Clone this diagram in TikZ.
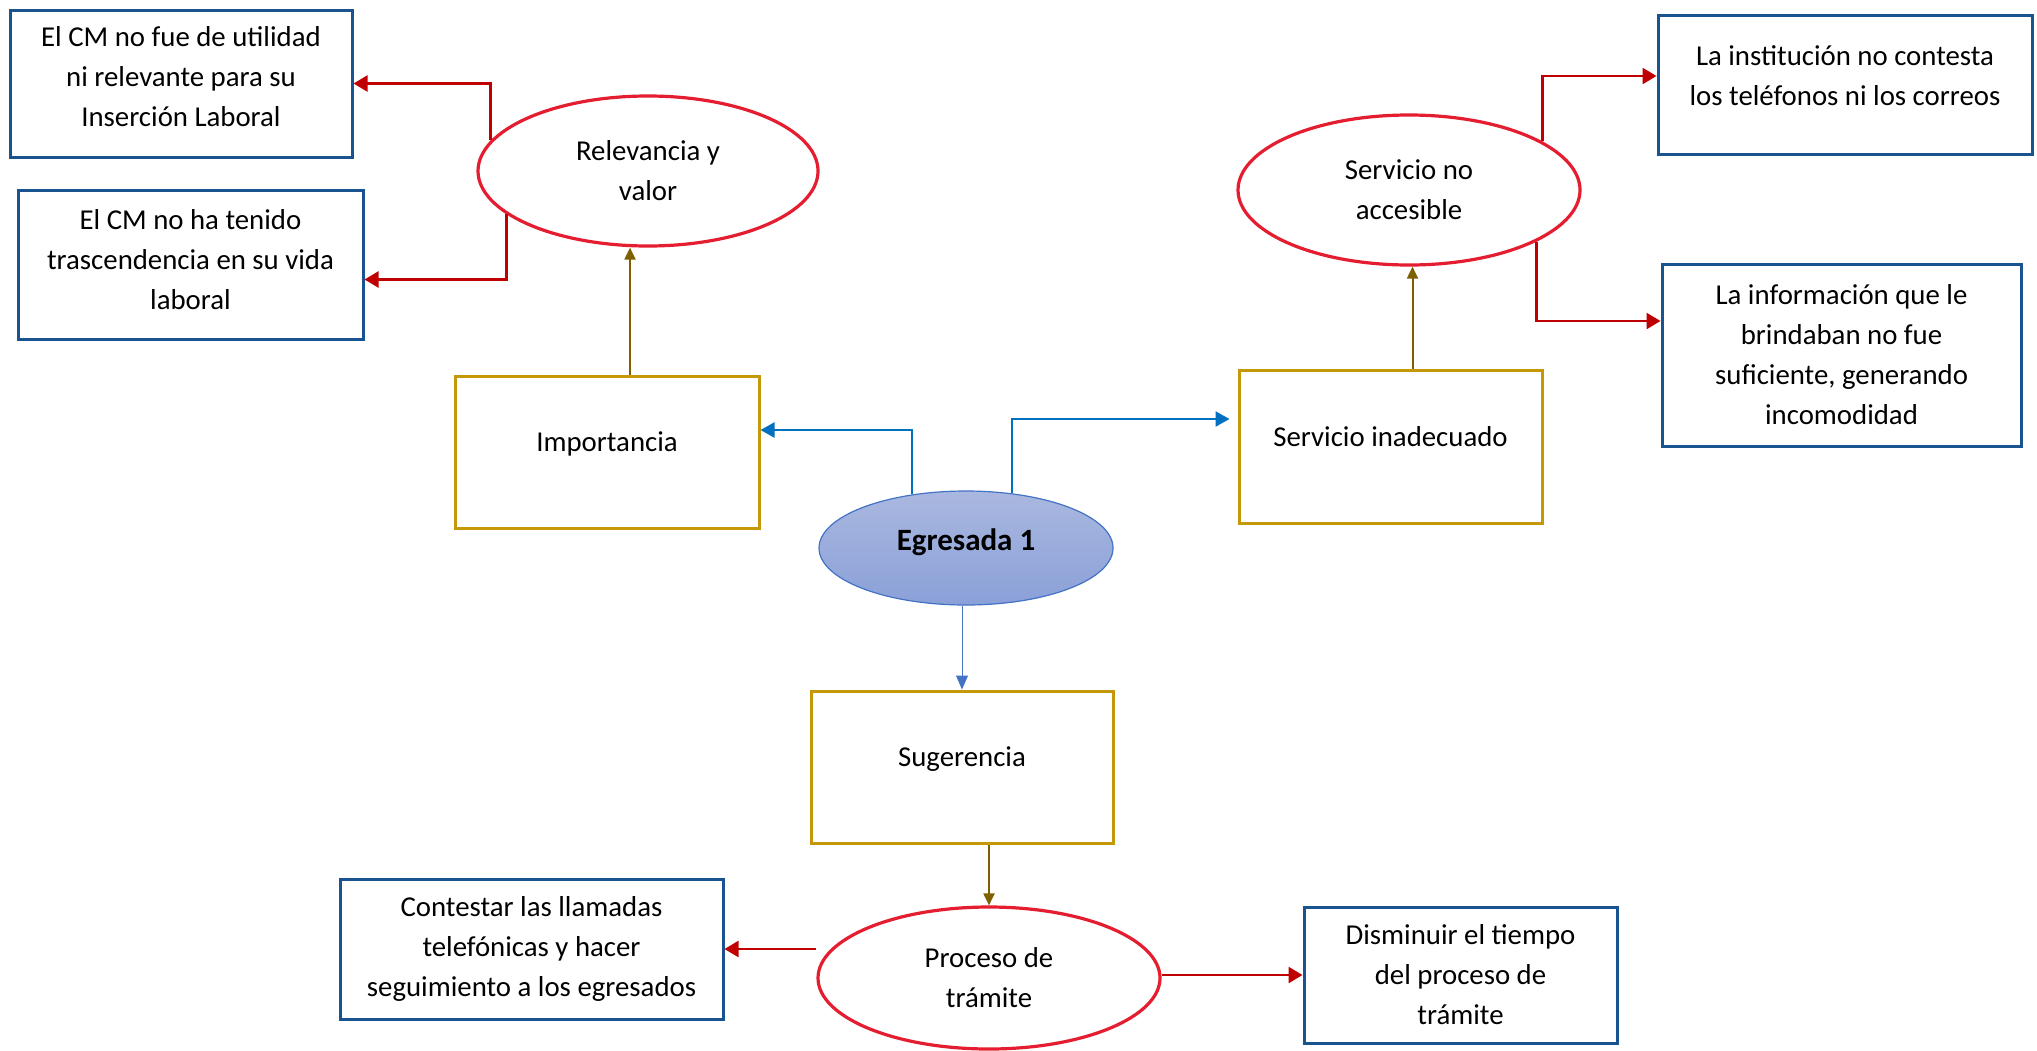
\documentclass[tikz,border=0pt]{standalone}
\usepackage{fontspec}
\setmainfont{Carlito}
\usetikzlibrary{shapes.geometric,arrows.meta}
\definecolor{boxblue}{RGB}{25,84,145}
\definecolor{gold}{RGB}{197,152,10}
\definecolor{ellred}{RGB}{228,30,48}
\definecolor{arrred}{RGB}{192,0,0}
\definecolor{arrbrown}{RGB}{127,96,0}
\definecolor{arrblue}{RGB}{0,112,192}
\definecolor{egline}{RGB}{68,114,196}
\definecolor{egtop}{RGB}{170,184,224}
\definecolor{egbot}{RGB}{138,160,216}
\newcommand\fs{\fontsize{14.4}{20}\selectfont}
\begin{document}
\begin{tikzpicture}[x=0.5pt,y=-0.5pt,
  bbox/.style={draw=boxblue, line width=1.5pt, inner sep=0pt, align=center, font=\fs},
  gbox/.style={draw=gold, line width=1.5pt, inner sep=0pt, align=center, font=\fs, text height=10pt, text depth=10.4pt},
  rell/.style={ellipse, draw=ellred, line width=1.6pt, inner sep=0pt, align=center, font=\fs},
  redarr/.style={draw=arrred, line width=1.2pt, -{Triangle[length=7pt,width=8pt]}},
  brarr/.style={draw=arrbrown, line width=1pt, -{Triangle[length=6pt,width=5.5pt]}},
  bluearr/.style={draw=arrblue, line width=1.1pt, -{Triangle[length=7pt,width=7.5pt]}},
  bluethin/.style={draw=egline, line width=0.5pt, -{Triangle[length=7pt,width=6pt]}}
]
\fill[white] (0,0) rectangle (2037,1050);
\useasboundingbox (0,0) rectangle (2037,1050);

% left group
\node[bbox, minimum width=171pt, minimum height=73.5pt, text depth=7.5pt] (A) at (181,83.5)
  {El CM no fue de utilidad\\ni relevante para su\\Inserción Laboral};
\node[bbox, minimum width=172.5pt, minimum height=74.5pt, text depth=5pt] (B) at (190.5,264.5)
  {El CM no ha tenido\\trascendencia en su vida\\laboral};
\node[rell, minimum width=170pt, minimum height=75pt] (rel) at (648,171) {Relevancia y\\valor};
\node[gbox, minimum width=152pt, minimum height=76pt] (imp) at (607,452) {Importancia};

% center
\node[ellipse, draw=egline, line width=0.6pt, top color=egtop, bottom color=egbot,
  minimum width=147pt, minimum height=57pt, inner sep=0pt,
  font=\fontsize{15.5}{18}\selectfont\bfseries, text height=10pt, text depth=8pt] (eg) at (966,548) {Egresada 1};

% right group
\node[gbox, minimum width=151.5pt, minimum height=76.5pt] (sin) at (1390.5,446.5) {Servicio inadecuado};
\node[rell, minimum width=171pt, minimum height=75pt] (sna) at (1409,190) {Servicio no\\accesible};
\node[bbox, minimum width=187pt, minimum height=69.5pt, text depth=9pt] (C) at (1845,84.5)
  {La institución no contesta\\los teléfonos ni los correos};
\node[bbox, minimum width=179.5pt, minimum height=91pt] (D) at (1841.5,355)
  {La información que le\\brindaban no fue\\suficiente, generando\\incomodidad};

% bottom group
\node[gbox, minimum width=151pt, minimum height=76pt] (sug) at (962,767) {Sugerencia};
\node[rell, minimum width=171pt, minimum height=71pt] (proc) at (989,978) {Proceso de\\trámite};
\node[bbox, minimum width=191.5pt, minimum height=70pt] (E) at (531.5,949)
  {Contestar las llamadas\\telefónicas y hacer\\seguimiento a los egresados};
\node[bbox, minimum width=156.5pt, minimum height=68pt] (F) at (1460.5,975)
  {Disminuir el tiempo\\del proceso de\\trámite};

% connectors
\draw[redarr] (rel.169) |- (A.east);
\draw[redarr] (rel.197) |- ([yshift=-7.5pt]B.east);
\draw[brarr] ([xshift=11.5pt]imp.north) -- ([xshift=11.5pt]imp.north |- rel.south);
\draw[bluearr] (eg.135) |- ([yshift=11pt]imp.east);
\draw[bluearr, shorten >=4pt] (eg.50) |- ([yshift=13.75pt]sin.west);
\draw[bluethin] (sug.north |- eg.south) -- (sug.north);
\draw[brarr] (proc.north |- sug.south) -- (proc.north);
\draw[redarr] (proc.west |- E.east) -- (E.east);
\draw[redarr] (proc.east |- F.west) -- (F.west);
\draw[redarr] (sna.20) |- ([yshift=4.25pt]C.west);
\draw[redarr] (sna.338) |- ([yshift=17pt]D.west);
\draw[brarr] ([xshift=11pt]sin.north) -- ([xshift=11pt]sin.north |- sna.south);
\end{tikzpicture}
\end{document}
